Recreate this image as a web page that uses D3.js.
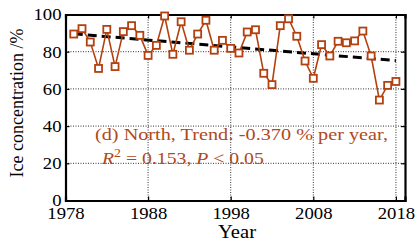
<!DOCTYPE html>
<html>
<head>
<meta charset="utf-8">
<script src="https://cdn.jsdelivr.net/npm/d3@7"></script>
<style>
  body { margin: 0; background: #fff; }
  svg text { font-family: "Liberation Serif", "DejaVu Serif", serif; }
</style>
</head>
<body>
<script>
const years = d3.range(1979, 2019);
const iceConc = [89.5, 92.4, 85.2, 71.0, 92.0, 72.0, 90.8, 94.0, 88.8, 78.0,
                 83.4, 99.2, 78.6, 96.1, 80.8, 89.5, 96.9, 80.8, 86.1, 81.8,
                 79.3, 90.6, 91.8, 68.4, 62.3, 94.0, 97.7, 88.3, 75.0, 65.7,
                 83.8, 77.7, 85.6, 84.8, 85.8, 91.1, 77.7, 54.0, 61.9, 64.0];
const trendYears = [1979, 2018];
const trendVals = [89.6, 75.2];
const xTicks = [1978, 1988, 1998, 2008, 2018];
const yTicks = [0, 20, 40, 60, 80, 100];

const w = 419, h = 242;
const pLeft = 65.5, pRight = 405, pTop = 14.5, pBottom = 200.5;
const orange = "#b4400f";
const textOrange = "#b0491b";
const fs = 17;
const digitW = 9.35; // the glyphs are a bit wider than the font size gives

const svg = d3.select("body").append("svg")
  .attr("width", w).attr("height", h);

const xScale = d3.scaleLinear().domain([1978, 2019.1]).range([pLeft, pRight]);
const yScale = d3.scaleLinear().domain([0, 100]).range([pBottom, pTop]);

// grid
svg.append("g").selectAll("line")
  .data(yTicks.filter(d => d > 0 && d < 100))
  .enter().append("line")
  .attr("x1", pLeft).attr("x2", pRight)
  .attr("y1", d => yScale(d)).attr("y2", d => yScale(d))
  .attr("stroke", "#333").attr("stroke-width", 1).attr("stroke-dasharray", "1,1.5");
svg.append("g").selectAll("line")
  .data(xTicks.slice(1))
  .enter().append("line")
  .attr("x1", d => xScale(d)).attr("x2", d => xScale(d))
  .attr("y1", pTop).attr("y2", pBottom)
  .attr("stroke", "#333").attr("stroke-width", 1).attr("stroke-dasharray", "1,1.5");

// axes
const xAxis = d3.axisBottom(xScale).tickValues(xTicks).tickSize(-4).tickPadding(6).tickFormat(d3.format("d"));
const gx = svg.append("g").attr("transform", "translate(0," + pBottom + ")").call(xAxis);
const yAxis = d3.axisLeft(yScale).tickValues(yTicks).tickSize(-4).tickPadding(4);
const gy = svg.append("g").attr("transform", "translate(" + pLeft + ",0)").call(yAxis);
svg.append("g").attr("transform", "translate(" + pRight + ",0)")
  .call(d3.axisRight(yScale).tickValues(yTicks).tickSize(-4).tickFormat(""));
svg.append("g").attr("transform", "translate(0," + pTop + ")")
  .call(d3.axisTop(xScale).tickValues(xTicks).tickSize(-4).tickFormat(""));

svg.selectAll(".domain").attr("stroke", "#000").attr("stroke-width", 2.2);
svg.selectAll(".tick line").attr("stroke", "#000").attr("stroke-width", 1.2);
[gx, gy].forEach(g => g.selectAll("text")
  .attr("font-size", fs).attr("fill", "#000")
  .attr("font-family", "Liberation Serif")
  .attr("lengthAdjust", "spacingAndGlyphs")
  .attr("textLength", function () { return this.textContent.length * digitW; }));

// trend
svg.append("line")
  .attr("x1", xScale(trendYears[0])).attr("y1", yScale(trendVals[0]))
  .attr("x2", xScale(trendYears[1])).attr("y2", yScale(trendVals[1]))
  .attr("stroke", "#000").attr("stroke-width", 3).attr("stroke-dasharray", "9,5");

// series
const line = d3.line().x((d, i) => xScale(years[i])).y(d => yScale(d));
svg.append("path").datum(iceConc)
  .attr("d", line).attr("fill", "none")
  .attr("stroke", orange).attr("stroke-width", 1.6);
svg.selectAll("rect.mk")
  .data(iceConc).enter().append("rect")
  .attr("class", "mk")
  .attr("x", (d, i) => xScale(years[i]) - 3.5)
  .attr("y", d => yScale(d) - 3.5)
  .attr("width", 7).attr("height", 7)
  .attr("fill", "#fff").attr("stroke", orange).attr("stroke-width", 1.8);

// annotation
svg.append("text").attr("x", 95).attr("y", 140)
  .attr("font-size", fs).attr("fill", textOrange)
  .attr("textLength", 293).attr("lengthAdjust", "spacingAndGlyphs")
  .text("(d) North, Trend: -0.370 % per year,");
const t2 = svg.append("text").attr("x", 0).attr("y", 0)
  .attr("font-size", fs).attr("fill", textOrange);
t2.append("tspan").attr("font-style", "italic").text("R");
t2.append("tspan").attr("font-size", 12).attr("dy", -7).text("2");
t2.append("tspan").attr("dy", 7).text(" = 0.153, ");
t2.append("tspan").attr("font-style", "italic").text("P");
t2.append("tspan").text(" < 0.05");
const t2w = t2.node().getComputedTextLength();
t2.attr("transform", "translate(102,163.5) scale(" + (162 / t2w) + ",1)");

// axis titles
svg.append("text").attr("x", 237).attr("y", 237.5)
  .attr("text-anchor", "middle").attr("font-size", 18)
  .attr("textLength", 38).attr("lengthAdjust", "spacingAndGlyphs").text("Year");
svg.append("text")
  .attr("transform", "translate(23," + 103 + ") rotate(-90)")
  .attr("text-anchor", "middle").attr("font-size", 18).text("Ice concentration /%");
</script>
</body>
</html>
